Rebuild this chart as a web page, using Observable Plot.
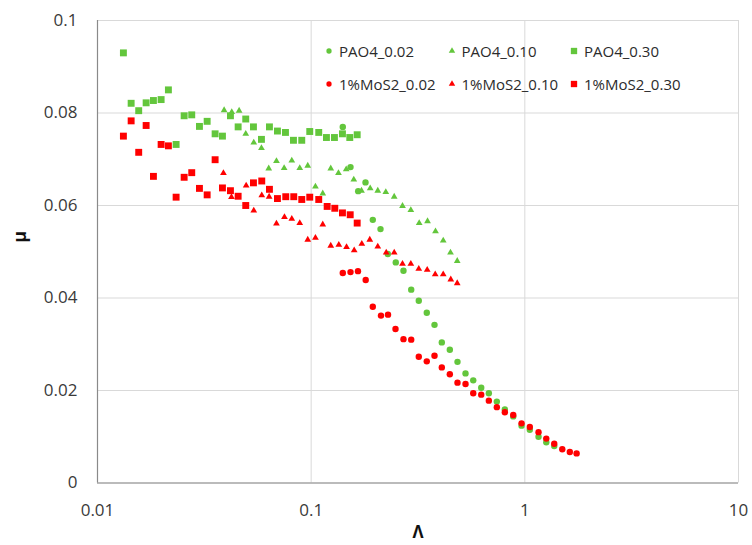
<!DOCTYPE html>
<html>
<head>
<meta charset="utf-8">
<script src="https://cdn.jsdelivr.net/npm/d3@7"></script>
<script src="https://cdn.jsdelivr.net/npm/@observablehq/plot@0.6"></script>
<style>
  body { margin: 0; background: #fff; }
  #chart { position: relative; width: 752px; height: 545px; font-family: "Open Sans", sans-serif; }
  .legend-item { position: absolute; display: flex; align-items: center; height: 20px;
    font-size: 15px; color: #2b2b2b; white-space: nowrap; }
  .legend-item svg { display: block; margin-right: 3px; }
</style>
</head>
<body>
<div id="chart"></div>
<script>
// Friction coefficient μ against lubrication parameter Λ

const xTicks = [0.01, 0.1, 1, 10];
const xTickLabels = ["0.01", "0.1", "1", "10"];
const yTicks = [0, 0.02, 0.04, 0.06, 0.08, 0.1];
const yTickLabels = ["0", "0.02", "0.04", "0.06", "0.08", "0.1"];

const seriesNames = ["PAO4_0.02", "PAO4_0.10", "PAO4_0.30", "1%MoS2_0.02", "1%MoS2_0.10", "1%MoS2_0.30"];
const seriesSymbols = ["circle", "triangle", "square", "circle", "triangle", "square"];
const seriesColors = ["#63c63c", "#63c63c", "#63c63c", "#ff0000", "#ff0000", "#ff0000"];

// PAO4_0.02
const pao4_002_lambda = [0.1406,0.1528,0.1660,0.1796,0.1943,0.2111,0.2284,0.2489,0.2704,0.2939,0.3189,0.3476,0.3778,0.4087,0.4456,0.4840,0.5278,0.5735,0.6251,0.6785,0.7395,0.8061,0.8825,0.9652,1.055,1.159,1.260,1.373];
const pao4_002_mu = [0.0770,0.0683,0.0631,0.0650,0.0569,0.0549,0.0495,0.0477,0.0459,0.0418,0.0394,0.0368,0.0342,0.0304,0.0288,0.0262,0.0237,0.0222,0.0206,0.0194,0.0176,0.0159,0.0144,0.0124,0.0115,0.0100,0.0088,0.0080];

// PAO4_0.10
const pao4_010_lambda = [0.03914,0.04249,0.04601,0.04941,0.05387,0.05852,0.0633,0.06879,0.07474,0.08116,0.08842,0.0964,0.1047,0.1133,0.1235,0.1342,0.1459,0.1583,0.1720,0.1889,0.2050,0.2235,0.2447,0.2676,0.2927,0.3203,0.3504,0.3819,0.4150,0.4488,0.4826];
const pao4_010_mu = [0.0806,0.0802,0.0805,0.0755,0.0736,0.0724,0.0680,0.0696,0.0681,0.0697,0.0681,0.0686,0.0641,0.0626,0.0680,0.0670,0.0678,0.0656,0.0632,0.0637,0.0632,0.0629,0.0619,0.0599,0.0590,0.0562,0.0566,0.0544,0.0524,0.0498,0.0480];

// PAO4_0.30
const pao4_030_lambda = [0.01322,0.01437,0.01559,0.01689,0.01827,0.01985,0.02147,0.02333,0.02544,0.02761,0.0300,0.0326,0.03552,0.03844,0.0419,0.04552,0.04941,0.05369,0.05852,0.06378,0.06953,0.07581,0.08263,0.09036,0.09849,0.1085,0.1179,0.1285,0.1401,0.1516,0.1642];
const pao4_030_mu = [0.0930,0.0821,0.0805,0.0822,0.0827,0.0829,0.0850,0.0732,0.0794,0.0796,0.0771,0.0782,0.0755,0.0750,0.0794,0.0770,0.0787,0.0770,0.0743,0.0770,0.0761,0.0758,0.0741,0.0741,0.0760,0.0758,0.0747,0.0747,0.0755,0.0747,0.0753];

// 1%MoS2_0.02
const mos2_002_lambda = [0.1406,0.1528,0.1656,0.1800,0.1943,0.2122,0.2289,0.2481,0.2704,0.2939,0.3189,0.3476,0.3778,0.4087,0.4456,0.4840,0.5278,0.5735,0.6251,0.6785,0.7395,0.8061,0.8825,0.9652,1.055,1.159,1.260,1.373,1.497,1.624,1.747];
const mos2_002_mu = [0.0454,0.0456,0.0458,0.0439,0.0381,0.0362,0.0364,0.0333,0.0311,0.0310,0.0273,0.0263,0.0275,0.0250,0.0235,0.0217,0.0214,0.0194,0.0191,0.0178,0.0164,0.0153,0.0147,0.0129,0.0121,0.0110,0.0096,0.0085,0.0073,0.0067,0.0064];

// 1%MoS2_0.10
const mos2_010_lambda = [0.03885,0.04236,0.04963,0.05387,0.05872,0.06357,0.06879,0.07499,0.08116,0.08842,0.0964,0.1047,0.1133,0.1235,0.1347,0.1464,0.1590,0.1726,0.1881,0.2050,0.2245,0.2447,0.2676,0.2927,0.3189,0.3492,0.3807,0.4150,0.4503,0.4826];
const mos2_010_mu = [0.0670,0.0618,0.0643,0.0589,0.0622,0.0619,0.0561,0.0575,0.0571,0.0562,0.0526,0.0530,0.0559,0.0513,0.0515,0.0510,0.0503,0.0517,0.0526,0.0511,0.0498,0.0498,0.0474,0.0474,0.0463,0.0461,0.0451,0.0451,0.0440,0.0432];

// 1%MoS2_0.30
const mos2_030_lambda = [0.01322,0.01437,0.01559,0.01689,0.01827,0.01985,0.02147,0.02333,0.02544,0.02761,0.0300,0.0326,0.03552,0.03844,0.0419,0.04552,0.04941,0.05369,0.05872,0.06378,0.06953,0.07605,0.08290,0.09036,0.09849,0.1085,0.1188,0.1290,0.1401,0.1523,0.1642];
const mos2_030_mu = [0.0750,0.0783,0.0715,0.0773,0.0663,0.0732,0.0729,0.0618,0.0661,0.0671,0.0637,0.0623,0.0699,0.0638,0.0632,0.0620,0.0600,0.0649,0.0653,0.0635,0.0615,0.0619,0.0619,0.0613,0.0618,0.0613,0.0598,0.0594,0.0584,0.0580,0.0562];

const seriesData = [
  [pao4_002_lambda, pao4_002_mu],
  [pao4_010_lambda, pao4_010_mu],
  [pao4_030_lambda, pao4_030_mu],
  [mos2_002_lambda, mos2_002_mu],
  [mos2_010_lambda, mos2_010_mu],
  [mos2_030_lambda, mos2_030_mu]
];

// marker radius per symbol (Plot sizes symbols by area π·r²)
const markerR = { circle: 3.2, triangle: 2.5, square: 3.9 };

const dotMarks = seriesData.map(([lam, mu], i) => {
  const rows = lam.map((l, j) => ({ lambda: l, mu: mu[j] }));
  return Plot.dot(rows, {
    x: "lambda", y: "mu",
    symbol: seriesSymbols[i],
    r: markerR[seriesSymbols[i]],
    fill: seriesColors[i],
    stroke: "none"
  });
});

const chart = Plot.plot({
  width: 752,
  height: 545,
  marginLeft: 97,
  marginRight: 14,
  marginTop: 20,
  marginBottom: 62.5,
  style: { fontFamily: "'Open Sans', sans-serif", color: "#3a3a3a", background: "#fff" },
  x: { type: "log", domain: [0.01, 10] },
  y: { domain: [0, 0.1] },
  marks: [
    Plot.gridX(xTicks, { stroke: "#d9d9d9", strokeOpacity: 1 }),
    Plot.gridY(yTicks, { stroke: "#d9d9d9", strokeOpacity: 1 }),
    Plot.ruleX([xTicks[0]], { stroke: "#8a8a8a", strokeWidth: 1.2 }),
    Plot.ruleY([yTicks[0]], { stroke: "#8a8a8a", strokeWidth: 1.2 }),
    Plot.axisX(xTicks, {
      tickSize: 0, tickPadding: 21, fontSize: 17, label: null,
      tickFormat: d => xTickLabels[xTicks.indexOf(d)]
    }),
    Plot.axisY(yTicks, {
      tickSize: 0, tickPadding: 20, fontSize: 17, label: null,
      tickFormat: d => yTickLabels[yTicks.indexOf(d)]
    }),
    Plot.text(["Λ"], {
      text: d => d, frameAnchor: "bottom", dy: 50,
      textAnchor: "middle", lineAnchor: "middle",
      fontSize: 17, fontWeight: "bold", fill: "#111"
    }),
    Plot.text(["μ"], {
      text: d => d, frameAnchor: "left", dx: -77, dy: -15, rotate: -90,
      textAnchor: "middle", lineAnchor: "middle",
      fontSize: 18, fontWeight: "bold", fill: "#111"
    }),
    ...dotMarks
  ]
});

const container = document.getElementById("chart");
container.appendChild(chart);

// Legend: two rows of three entries over the top of the plot area
const legendLeft = 329, legendColStep = 122.5, legendTop = 51, legendRowStep = 32.5;
const legendMarkerSize = { circle: 22, triangle: 18, square: 40 };
seriesNames.forEach((name, i) => {
  const col = i % 3, row = Math.floor(i / 3);
  const item = document.createElement("div");
  item.className = "legend-item";
  item.style.left = (legendLeft + col * legendColStep - 7) + "px";
  item.style.top = (legendTop + row * legendRowStep - 10) + "px";
  const svg = d3.create("svg").attr("width", 14).attr("height", 14);
  const type = { circle: d3.symbolCircle, triangle: d3.symbolTriangle, square: d3.symbolSquare }[seriesSymbols[i]];
  svg.append("path")
    .attr("transform", "translate(7,7)")
    .attr("d", d3.symbol(type, legendMarkerSize[seriesSymbols[i]])())
    .attr("fill", seriesColors[i]);
  item.appendChild(svg.node());
  const label = document.createElement("span");
  label.textContent = name;
  item.appendChild(label);
  container.appendChild(item);
});
</script>
</body>
</html>
